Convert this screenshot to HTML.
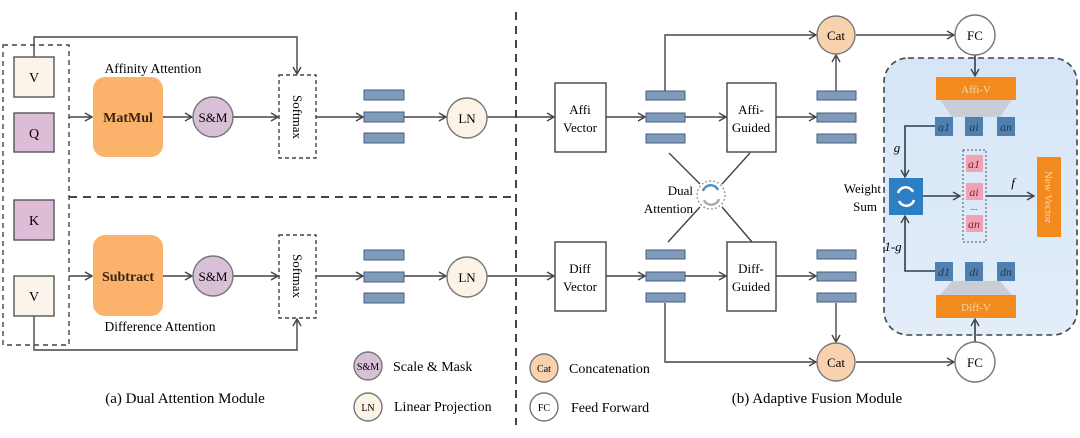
<!DOCTYPE html>
<html><head><meta charset="utf-8"><style>
html,body{margin:0;padding:0;background:#fff;}
svg{display:block;font-family:"Liberation Serif",serif;}
</style></head><body>
<svg width="1080" height="438" viewBox="0 0 1080 438" xmlns="http://www.w3.org/2000/svg">
<defs>
<marker id="a" markerWidth="10" markerHeight="10" refX="8" refY="5" orient="auto" markerUnits="userSpaceOnUse">
<path d="M1,1 L8,5 L1,9" fill="none" stroke="#444" stroke-width="1.4"/></marker>
<linearGradient id="bg" x1="0" y1="0" x2="0" y2="1"><stop offset="0" stop-color="#d6e6f7"/><stop offset="1" stop-color="#e2edf9"/></linearGradient>
</defs>
<g stroke="#444" stroke-width="1.4" fill="none">
<!-- left dashed boxes -->
<rect x="3" y="45" width="66" height="300" stroke-dasharray="5,4"/>
<line x1="69" y1="197" x2="514" y2="197" stroke-dasharray="8,6" stroke-width="2"/>
<line x1="516" y1="12" x2="516" y2="425" stroke-dasharray="8,6" stroke-width="2"/>
<!-- V top arrow -->
<polyline points="34,57 34,37 297,37 297,74" marker-end="url(#a)"/>
<polyline points="34,316 34,350 297,350 297,319" marker-end="url(#a)"/>
<line x1="69" y1="117" x2="92" y2="117" marker-end="url(#a)"/>
<line x1="69" y1="276" x2="92" y2="276" marker-end="url(#a)"/>
<line x1="163" y1="117" x2="192" y2="117" marker-end="url(#a)"/>
<line x1="163" y1="276" x2="192" y2="276" marker-end="url(#a)"/>
<line x1="233" y1="117" x2="278" y2="117" marker-end="url(#a)"/>
<line x1="233" y1="276" x2="278" y2="276" marker-end="url(#a)"/>
<line x1="316" y1="117" x2="363" y2="117" marker-end="url(#a)"/>
<line x1="316" y1="276" x2="363" y2="276" marker-end="url(#a)"/>
<line x1="404" y1="117" x2="446" y2="117" marker-end="url(#a)"/>
<line x1="404" y1="276" x2="446" y2="276" marker-end="url(#a)"/>
<line x1="487" y1="117" x2="554" y2="117" marker-end="url(#a)"/>
<line x1="487" y1="276" x2="554" y2="276" marker-end="url(#a)"/>
<rect x="279" y="75" width="37" height="83" stroke-dasharray="4,3"/>
<rect x="279" y="235" width="37" height="83" stroke-dasharray="4,3"/>
<!-- right -->
<line x1="606" y1="117" x2="645" y2="117" marker-end="url(#a)"/>
<line x1="606" y1="276" x2="645" y2="276" marker-end="url(#a)"/>
<line x1="685" y1="117" x2="726" y2="117" marker-end="url(#a)"/>
<line x1="685" y1="276" x2="726" y2="276" marker-end="url(#a)"/>
<line x1="776" y1="117" x2="816" y2="117" marker-end="url(#a)"/>
<line x1="776" y1="276" x2="816" y2="276" marker-end="url(#a)"/>
<polyline points="665,91 665,35 816,35" marker-end="url(#a)"/>
<polyline points="665,303 665,362 816,362" marker-end="url(#a)"/>
<line x1="836" y1="91" x2="836" y2="55" marker-end="url(#a)"/>
<line x1="836" y1="303" x2="836" y2="342" marker-end="url(#a)"/>
<line x1="856" y1="35" x2="954" y2="35" marker-end="url(#a)"/>
<line x1="856" y1="362" x2="954" y2="362" marker-end="url(#a)"/>
<line x1="669" y1="153" x2="700" y2="184"/>
<line x1="750" y1="153" x2="722" y2="184"/>
<line x1="700" y1="207" x2="668" y2="242"/>
<line x1="722" y1="207" x2="752" y2="242"/>
<rect x="555" y="83" width="51" height="69" fill="#fff"/>
<rect x="555" y="242" width="51" height="69" fill="#fff"/>
<rect x="727" y="83" width="49" height="69" fill="#fff"/>
<rect x="727" y="242" width="49" height="69" fill="#fff"/>
</g>
<!-- blue panel -->
<rect x="884" y="58" width="193" height="277" rx="24" fill="url(#bg)" stroke="#444" stroke-width="1.6" stroke-dasharray="6,4"/>
<polygon points="940,100 1012,100 1000,117 952,117" fill="#c8cdd6"/>
<polygon points="952,281 1000,281 1012,295 940,295" fill="#c8cdd6"/>
<rect x="936" y="77" width="80" height="23" fill="#f28a1e"/>
<rect x="936" y="295" width="80" height="23" fill="#f28a1e"/>
<text x="976" y="93" font-size="11" fill="#fbd7a8" text-anchor="middle">Affi-V</text>
<text x="976" y="311" font-size="11" fill="#fbd7a8" text-anchor="middle">Diff-V</text>
<g fill="#4f80b0">
<rect x="935" y="117" width="18" height="19"/><rect x="965" y="117" width="18" height="19"/><rect x="997" y="117" width="18" height="19"/>
<rect x="935" y="262" width="18" height="19"/><rect x="965" y="262" width="18" height="19"/><rect x="997" y="262" width="18" height="19"/>
</g>
<g font-size="12" font-style="italic" fill="#1e3a5a" text-anchor="middle">
<text x="944" y="131">a1</text><text x="974" y="131">ai</text><text x="1006" y="131">an</text>
<text x="944" y="276">d1</text><text x="974" y="276">di</text><text x="1006" y="276">dn</text>
</g>
<rect x="963" y="150" width="23" height="92" fill="none" stroke="#556" stroke-width="1" stroke-dasharray="2,2"/>
<g fill="#f1a3b5"><rect x="966" y="155" width="17" height="17"/><rect x="966" y="183" width="17" height="17"/><rect x="966" y="215" width="17" height="17"/></g>
<g font-size="12" font-style="italic" fill="#8a2030" text-anchor="middle">
<text x="974" y="168">a1</text><text x="974" y="196">ai</text><text x="974" y="228">an</text></g>
<text x="974" y="210" font-size="9" text-anchor="middle" fill="#444">...</text>
<g stroke="#2c3e55" stroke-width="1.6" fill="none">
<polyline points="935,126 905,126 905,177" marker-end="url(#a)"/>
<polyline points="935,271 905,271 905,216" marker-end="url(#a)"/>
<line x1="923" y1="196" x2="960" y2="196" marker-end="url(#a)"/>
<line x1="986" y1="196" x2="1034" y2="196" marker-end="url(#a)"/>
<line x1="975" y1="55" x2="975" y2="76" marker-end="url(#a)"/>
<line x1="975" y1="342" x2="975" y2="319" marker-end="url(#a)"/>
</g>
<rect x="889" y="178" width="34" height="37" fill="#2d7fc3"/>
<path d="M898,193 A8,8 0 0 1 913,192" stroke="#fff" stroke-width="2.5" fill="none"/>
<path d="M914,200 A8,8 0 0 1 899,201" stroke="#fff" stroke-width="2.5" fill="none"/>
<rect x="1037" y="157" width="24" height="80" fill="#f28a1e"/>
<text transform="translate(1049,197) rotate(90)" font-size="11" fill="#fbd7a8" text-anchor="middle" dy="4">New Vector</text>
<text x="897" y="152" font-size="13" font-style="italic" text-anchor="middle">g</text>
<text x="893" y="251" font-size="13" font-style="italic" text-anchor="middle">1-g</text>
<text x="1013" y="187" font-size="13" font-style="italic" text-anchor="middle">f</text>
<text x="881" y="193" font-size="13" text-anchor="end">Weight</text>
<text x="877" y="211" font-size="13" text-anchor="end">Sum</text>
<!-- bars -->
<g fill="#7e9bbd" stroke="#4a5d75" stroke-width="1">
<rect x="364" y="90" width="40" height="10"/><rect x="364" y="112" width="40" height="10"/><rect x="364" y="133" width="40" height="10"/>
<rect x="364" y="250" width="40" height="10"/><rect x="364" y="272" width="40" height="10"/><rect x="364" y="293" width="40" height="10"/>
<rect x="646" y="91" width="39" height="9"/><rect x="646" y="113" width="39" height="9"/><rect x="646" y="134" width="39" height="9"/>
<rect x="646" y="250" width="39" height="9"/><rect x="646" y="272" width="39" height="9"/><rect x="646" y="293" width="39" height="9"/>
<rect x="817" y="91" width="39" height="9"/><rect x="817" y="113" width="39" height="9"/><rect x="817" y="134" width="39" height="9"/>
<rect x="817" y="250" width="39" height="9"/><rect x="817" y="272" width="39" height="9"/><rect x="817" y="293" width="39" height="9"/>
</g>
<!-- left boxes -->
<g stroke="#555" stroke-width="1.4">
<rect x="14" y="57" width="40" height="40" fill="#fbf4ea"/>
<rect x="14" y="113" width="40" height="39" fill="#dcbcd6"/>
<rect x="14" y="200" width="40" height="40" fill="#dcbcd6"/>
<rect x="14" y="276" width="40" height="40" fill="#fbf4ea"/>
</g>
<g font-size="14" text-anchor="middle"><text x="34" y="82">V</text><text x="34" y="138">Q</text><text x="34" y="225">K</text><text x="34" y="301">V</text></g>
<rect x="93" y="77" width="70" height="80" rx="12" fill="#fbb36b"/>
<rect x="93" y="235" width="70" height="81" rx="12" fill="#fbb36b"/>
<text x="128" y="122" font-size="14" font-weight="bold" text-anchor="middle" fill="#3a2410">MatMul</text>
<text x="128" y="281" font-size="14" font-weight="bold" text-anchor="middle" fill="#3a2410">Subtract</text>
<text x="153" y="73" font-size="13.5" text-anchor="middle">Affinity Attention</text>
<text x="160" y="331" font-size="13.5" text-anchor="middle">Difference Attention</text>
<g stroke="#777" stroke-width="1.4">
<circle cx="213" cy="117" r="20" fill="#d8c0d6"/><circle cx="213" cy="276" r="20" fill="#d8c0d6"/>
<circle cx="467" cy="118" r="20" fill="#fbf3e6"/><circle cx="467" cy="277" r="20" fill="#fbf3e6"/>
<circle cx="836" cy="35" r="19" fill="#f8d2ae"/><circle cx="836" cy="362" r="19" fill="#f8d2ae"/>
<circle cx="975" cy="35" r="20" fill="#fff"/><circle cx="975" cy="362" r="20" fill="#fff"/>
<circle cx="368" cy="366" r="14" fill="#d8c0d6"/><circle cx="368" cy="407" r="14" fill="#fbf3e6"/>
<circle cx="544" cy="368" r="14" fill="#f8d2ae"/><circle cx="544" cy="407" r="14" fill="#fff"/>
</g>
<circle cx="711" cy="195" r="14" fill="#fff" stroke="#999" stroke-width="1.4" stroke-dasharray="2,2"/>
<path d="M703,191 A8,8 0 0 1 718,190" stroke="#4a90c8" stroke-width="2.4" fill="none"/>
<path d="M719,199 A8,8 0 0 1 704,200" stroke="#aaa" stroke-width="2.4" fill="none"/>
<g font-size="13" text-anchor="middle">
<text x="213" y="122">S&amp;M</text><text x="213" y="281">S&amp;M</text>
<text x="467" y="123">LN</text><text x="467" y="282">LN</text>
<text x="836" y="40">Cat</text><text x="836" y="367">Cat</text>
<text x="975" y="40">FC</text><text x="975" y="367">FC</text>
<text x="580" y="114">Affi</text><text x="580" y="132">Vector</text>
<text x="580" y="273">Diff</text><text x="580" y="291">Vector</text>
<text x="751" y="114">Affi-</text><text x="751" y="132">Guided</text>
<text x="751" y="273">Diff-</text><text x="751" y="291">Guided</text>
</g>
<text x="693" y="195" font-size="13" text-anchor="end">Dual</text>
<text x="693" y="213" font-size="13" text-anchor="end">Attention</text>
<text transform="translate(297,117) rotate(90)" font-size="13" text-anchor="middle" dy="4">Softmax</text>
<text transform="translate(297,276) rotate(90)" font-size="13" text-anchor="middle" dy="4">Softmax</text>
<g font-size="10" text-anchor="middle"><text x="368" y="370">S&amp;M</text><text x="368" y="411">LN</text><text x="544" y="372">Cat</text><text x="544" y="411">FC</text></g>
<g font-size="14"><text x="393" y="371">Scale &amp; Mask</text><text x="394" y="411">Linear Projection</text>
<text x="569" y="373">Concatenation</text><text x="571" y="412">Feed Forward</text></g>
<text x="185" y="403" font-size="15" text-anchor="middle">(a) Dual Attention Module</text>
<text x="817" y="403" font-size="15" text-anchor="middle">(b) Adaptive Fusion Module</text>
</svg>
</body></html>
